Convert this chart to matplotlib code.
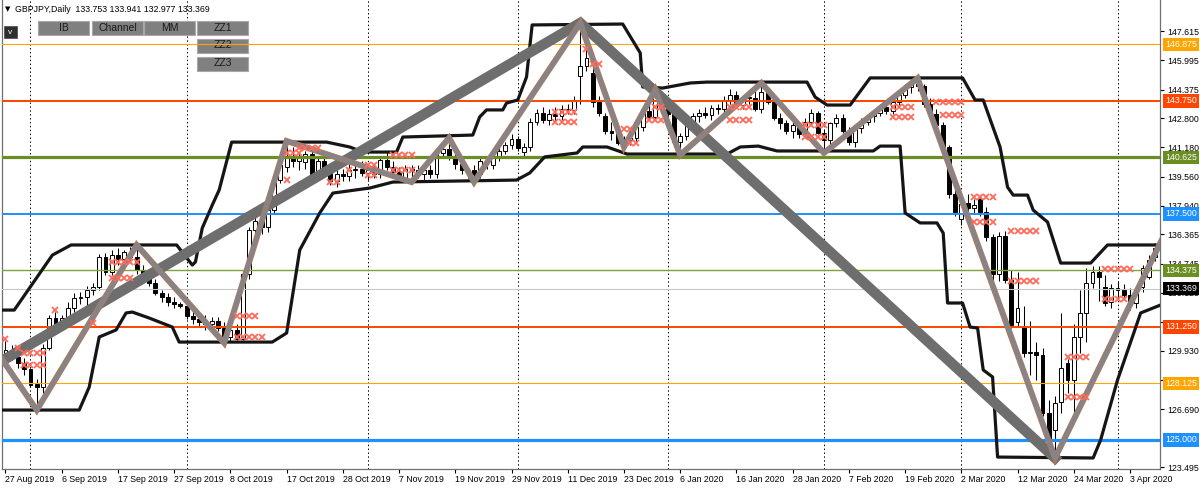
import matplotlib
matplotlib.use('Agg')
import matplotlib.pyplot as plt
import numpy as np
from matplotlib.patches import Rectangle

# daily GBPJPY bars (bar index = position on the time axis)
opens = [129.55, 129.95, 129.60, 129.25, 128.90, 128.10, 127.90, 130.10, 131.75, 131.40,
         131.75, 132.30, 132.85, 132.90, 133.30, 133.45, 135.10, 134.30, 135.20, 135.00,
         135.40, 135.10, 134.40, 133.95, 133.70, 133.10, 132.90, 132.60, 132.50, 132.40,
         131.85, 131.70, 131.50, 131.40, 131.60, 131.20, 130.70, 131.10, 130.60, 134.20,
         136.60, 137.10, 136.80, 137.70, 139.40, 140.10, 140.70, 140.40, 140.35, 140.80,
         139.80, 140.40, 140.00, 139.30, 139.70, 139.60, 139.90, 140.00, 139.75, 139.90,
         139.70, 140.50, 140.10, 139.80, 139.50, 140.00, 139.95, 139.70, 139.90, 139.70,
         140.85, 141.10, 140.60, 140.25, 139.90, 139.95, 139.70, 140.40, 140.20, 140.70,
         141.00, 141.30, 141.65, 140.90, 141.20, 142.60, 143.10, 142.70, 143.00, 142.90,
         143.30, 143.25, 145.10, 145.70, 145.30, 143.70, 142.90, 142.10, 142.00, 141.40,
         141.60, 141.70, 142.30, 143.20, 142.85, 144.00, 143.30, 143.00, 141.50, 141.80,
         142.40, 142.90, 143.10, 142.95, 143.35, 143.30, 143.80, 144.05, 143.55, 143.95,
         143.90, 143.30, 144.25, 143.70, 142.80, 142.50, 142.10, 142.40, 141.90, 142.60,
         143.10, 142.00, 141.60, 142.50, 142.80, 142.10, 141.45, 142.25, 142.60, 142.90,
         143.10, 143.40, 143.20, 143.70, 144.10, 144.50, 144.70, 144.55, 143.60, 143.00,
         142.40, 141.20, 138.60, 137.20, 138.10, 137.80, 138.30, 137.60, 136.20, 134.20,
         136.30, 133.85, 131.50, 131.25, 129.80, 129.85, 129.70, 126.50, 125.55, 127.10,
         129.25, 128.30, 130.70, 132.00, 133.68, 134.30, 133.45, 132.60, 133.40, 133.30,
         133.00, 132.57, 133.45, 134.00, 135.10]
highs = [130.45, 130.25, 129.90, 129.55, 129.00, 128.35, 130.30, 131.90, 132.10, 131.90,
         132.60, 133.10, 133.20, 133.50, 133.70, 135.30, 135.35, 135.50, 135.60, 135.50,
         135.65, 135.78, 134.70, 134.20, 133.90, 133.30, 133.10, 132.90, 132.60, 132.60,
         132.30, 132.00, 131.90, 131.80, 131.80, 131.50, 131.30, 131.40, 134.40, 136.80,
         137.50, 137.60, 138.00, 139.60, 140.50, 141.53, 141.20, 140.90, 141.00, 141.10,
         140.60, 140.70, 140.20, 139.90, 140.00, 140.30, 140.30, 140.40, 140.20, 140.20,
         140.60, 140.90, 140.40, 140.10, 140.20, 140.20, 140.20, 140.10, 140.20, 140.95,
         141.35, 141.70, 140.80, 140.40, 140.10, 140.20, 140.60, 140.70, 140.90, 141.20,
         141.50, 141.90, 141.80, 141.40, 142.80, 143.30, 143.40, 143.30, 143.40, 143.50,
         143.60, 144.00, 148.06, 146.70, 145.60, 144.00, 143.10, 142.60, 142.30, 141.80,
         141.90, 142.50, 143.30, 143.60, 144.35, 144.20, 143.50, 143.40, 142.00, 142.60,
         143.10, 143.30, 143.40, 143.50, 143.60, 144.00, 144.40, 144.30, 144.10, 144.30,
         144.30, 144.74, 144.50, 143.90, 143.10, 142.70, 142.60, 142.60, 142.80, 143.30,
         143.20, 142.20, 142.60, 143.00, 143.00, 142.30, 142.40, 142.80, 143.00, 143.20,
         143.60, 143.70, 143.90, 144.30, 144.70, 144.90, 145.00, 144.70, 143.90, 143.30,
         142.60, 141.30, 139.00, 138.50, 138.60, 138.30, 138.50, 137.90, 136.40, 136.50,
         136.55, 134.40, 134.30, 132.40, 131.60, 130.40, 130.10, 127.20, 127.40, 132.00,
         129.50, 131.40, 133.30, 134.50, 134.60, 134.60, 134.10, 133.60, 133.80, 133.60,
         133.40, 133.30, 134.70, 135.20, 135.90]
lows = [129.30, 129.40, 128.95, 128.60, 127.95, 126.65, 127.60, 129.95, 131.20, 131.10,
        131.50, 132.10, 132.50, 132.40, 133.00, 133.30, 134.10, 134.10, 134.70, 134.80,
        134.90, 134.20, 133.80, 133.50, 133.00, 132.60, 132.40, 132.30, 132.30, 131.70,
        131.40, 131.30, 131.10, 130.90, 131.00, 130.36, 130.40, 130.50, 130.50, 133.90,
        136.10, 136.40, 136.50, 137.50, 139.20, 139.80, 140.10, 139.90, 140.00, 139.50,
        139.60, 139.80, 139.10, 139.00, 139.30, 139.30, 139.50, 139.60, 139.40, 139.50,
        139.50, 139.90, 139.60, 139.30, 139.40, 139.26, 139.50, 139.40, 139.50, 139.50,
        140.60, 140.50, 140.00, 139.70, 139.50, 139.26, 139.50, 140.00, 140.00, 140.40,
        140.80, 141.10, 141.00, 140.70, 141.00, 142.40, 142.50, 142.40, 142.60, 142.70,
        143.00, 143.00, 143.60, 145.40, 143.40, 142.90, 141.90, 141.60, 141.30, 141.20,
        141.30, 141.50, 142.10, 142.70, 142.70, 143.10, 142.80, 141.20, 140.76, 141.60,
        142.20, 142.60, 142.80, 142.70, 143.00, 143.10, 143.60, 143.40, 143.30, 143.60,
        143.20, 143.10, 143.60, 142.70, 142.20, 141.90, 141.70, 141.70, 141.70, 142.40,
        141.90, 140.87, 141.20, 142.30, 142.00, 141.30, 141.20, 142.00, 142.40, 142.60,
        142.90, 143.00, 143.00, 143.50, 143.90, 144.20, 144.30, 143.40, 142.80, 142.30,
        141.10, 138.40, 137.40, 136.90, 137.40, 137.50, 137.40, 136.00, 133.50, 133.80,
        133.70, 131.20, 131.25, 129.60, 128.60, 128.30, 126.30, 124.60, 124.00, 126.50,
        127.60, 126.50, 129.80, 130.40, 133.40, 132.70, 132.40, 132.30, 132.90, 132.80,
        132.20, 132.30, 133.20, 133.90, 134.90]
closes = [129.95, 129.60, 129.25, 128.90, 128.05, 127.95, 130.10, 131.75, 131.40, 131.75,
          132.30, 132.85, 132.90, 133.30, 133.45, 135.10, 134.30, 135.20, 135.00, 135.40,
          135.10, 134.40, 133.95, 133.70, 133.10, 132.90, 132.60, 132.50, 132.40, 131.85,
          131.70, 131.50, 131.40, 131.60, 131.20, 130.70, 131.10, 130.60, 134.20, 136.60,
          137.10, 136.80, 137.70, 139.40, 140.20, 140.70, 140.40, 140.60, 140.80, 139.70,
          140.40, 140.00, 139.30, 139.70, 139.60, 139.90, 140.00, 139.75, 139.90, 139.70,
          140.50, 140.10, 139.80, 139.50, 140.00, 139.95, 139.70, 139.90, 139.70, 140.85,
          141.10, 140.60, 140.25, 139.90, 139.80, 139.70, 140.40, 140.30, 140.70, 141.00,
          141.30, 141.65, 141.15, 141.20, 142.60, 143.10, 142.70, 143.00, 142.90, 143.30,
          143.25, 143.80, 145.70, 146.10, 143.70, 143.10, 142.10, 142.00, 141.40, 141.60,
          141.70, 142.30, 143.20, 142.85, 144.00, 143.30, 143.00, 141.50, 141.80, 142.40,
          142.90, 143.10, 142.95, 143.35, 143.30, 143.80, 144.05, 143.55, 143.95, 143.90,
          143.30, 144.25, 143.70, 142.80, 142.50, 142.10, 142.40, 141.90, 142.60, 143.10,
          142.00, 141.60, 142.50, 142.80, 142.10, 141.45, 142.25, 142.60, 142.90, 143.10,
          143.40, 143.20, 143.70, 144.10, 144.50, 144.70, 144.55, 143.60, 143.00, 142.40,
          141.20, 138.60, 137.60, 138.05, 137.80, 138.00, 137.60, 136.20, 134.20, 136.30,
          133.85, 131.35, 132.30, 129.80, 129.85, 129.70, 126.50, 124.85, 127.04, 128.97,
          128.30, 130.70, 132.00, 133.68, 134.30, 134.00, 132.57, 133.40, 133.30, 133.00,
          132.60, 133.10, 134.50, 134.95, 135.60]

date_labels = ['27 Aug 2019', '6 Sep 2019', '17 Sep 2019', '27 Sep 2019', '8 Oct 2019',
               '17 Oct 2019', '28 Oct 2019', '7 Nov 2019', '19 Nov 2019', '29 Nov 2019',
               '11 Dec 2019', '23 Dec 2019', '6 Jan 2020', '16 Jan 2020', '28 Jan 2020',
               '7 Feb 2020', '19 Feb 2020', '2 Mar 2020', '12 Mar 2020', '24 Mar 2020',
               '3 Apr 2020']
label_step = 9
month_start_bars = [4, 29, 58, 82, 106, 131, 153, 178]

# 125.070 sits fully under the 125.000 tag, so it is not listed
y_ticks = [147.615, 145.995, 144.375, 142.800, 141.180, 139.560, 137.940, 136.365,
           134.745, 133.125, 131.505, 129.930, 128.310, 126.690, 123.495]

# murrey math style levels
levels = [146.875, 143.750, 140.625, 137.500, 134.375, 131.250, 128.125, 125.000]
level_colors = ['#FFA500', '#FF4500', '#6B8E23', '#1E90FF', '#7FA33A', '#FF4500', '#FFA500', '#1E90FF']
level_widths = [0.8, 1.4, 2.3, 1.4, 1.0, 1.4, 0.8, 2.3]
current_price = 133.369

# channel (black) knots
upper_bars = [-0.7, 1.4, 7.5, 10.5, 27.4, 29.9, 30.4, 31.5, 33.1, 34.2, 36.2, 51.4, 55.1,
              57.2, 62.6, 63.6, 74.8, 75.9, 77.0, 79.6, 80.2, 82.0, 83.4, 84.3, 98.8, 101.6,
              102.0, 105.2, 109.6, 112.3, 128.3, 129.6, 131.5, 135.2, 138.4, 153.2, 155.2,
              156.5, 159.2, 160.4, 161.3, 163.6, 164.5, 166.8, 168.9, 173.7, 176.4, 184.9]
upper_vals = [132.18, 132.18, 135.22, 135.78, 135.78, 134.67, 134.84, 136.72, 137.99, 138.82,
              141.47, 141.47, 141.2, 140.92, 140.92, 141.75, 141.86, 142.86, 143.25, 143.25,
              143.63, 143.8, 145.07, 147.95, 148.0, 146.4, 144.52, 144.46, 144.74, 144.79,
              144.79, 143.96, 143.52, 143.52, 145.02, 145.02, 143.8, 143.8, 141.2, 138.98,
              138.54, 138.54, 137.71, 137.05, 134.78, 134.78, 135.78, 135.78]
lower_bars = [-0.7, 11.8, 13.4, 15.0, 17.7, 19.3, 20.3, 23.0, 26.7, 27.8, 42.7, 45.0, 47.1,
              50.3, 52.4, 58.3, 62.0, 81.8, 83.9, 86.3, 91.5, 92.4, 96.3, 99.5, 115.5, 117.6,
              120.5, 123.5, 138.9, 140.0, 143.2, 144.0, 146.4, 149.1, 150.1, 150.8, 153.2,
              154.4, 155.6, 156.5, 158.0, 158.8, 174.1, 175.3, 178.0, 180.6, 181.7, 184.9]
lower_vals = [126.65, 126.65, 127.92, 130.69, 131.08, 132.02, 132.07, 131.74, 131.24, 130.41,
              130.41, 130.91, 135.5, 137.55, 138.65, 138.93, 139.26, 139.37, 139.76, 140.65,
              140.87, 141.2, 141.2, 140.81, 140.81, 141.2, 141.25, 140.98, 140.98, 141.25,
              141.25, 137.55, 137.0, 137.0, 136.44, 132.57, 132.57, 131.24, 131.19, 128.87,
              128.48, 124.05, 124.0, 125.0, 128.31, 130.91, 132.02, 132.46]

# zigzags
zz1_bars = [-0.7, 5, 21, 35, 45, 65, 71, 75, 92, 99, 104, 108, 121, 131, 146, 168, 185]
zz1_prices = [129.53, 126.65, 135.78, 130.36, 141.53, 139.26, 141.7, 139.26, 148.06, 141.2,
              144.35, 140.76, 144.74, 140.87, 145.0, 124.0, 136.0]
zz2_bars = [-0.7, 92, 168]
zz2_prices = [129.34, 148.06, 124.0]

# little red crosses (rows of marks over a few bars)
marker_prices = [130.6, 130.1, 129.8, 129.15, 132.2, 131.45, 134.85, 133.95, 131.85, 130.7,
                 141.15, 140.85, 139.37, 139.25, 139.9, 140.2, 139.65, 140.75, 139.93, 143.13,
                 142.58, 146.6, 145.8, 142.2, 141.4, 143.4, 142.69, 143.4, 142.69, 142.42,
                 141.75, 143.4, 142.85, 143.69, 142.97, 138.43, 137.05, 136.55, 133.79, 129.58,
                 127.37, 134.45, 132.79]
marker_bars = [[0], [2], [3, 4, 5, 6], [3, 4, 5, 6], [8], [14], [17, 18, 19, 20, 21],
               [17, 18, 19, 20], [37, 38, 39, 40], [37, 38, 39, 40, 41], [47, 48, 49, 50],
               [45, 46, 47], [45], [52, 53], [55], [58, 59], [58, 59], [62, 63, 64, 65],
               [62, 63, 64, 65], [88, 89, 90, 91], [88, 89, 90, 91], [93], [94, 95], [99, 100],
               [100, 101], [104, 105], [103, 104, 105], [116, 117, 118, 119], [116, 117, 118, 119],
               [128, 129, 130, 131], [128, 129, 130, 131], [142, 143, 144, 145], [142, 143, 144, 145],
               [149, 150, 151, 152, 153], [150, 151, 152, 153], [155, 156, 157, 158],
               [155, 156, 157, 158], [161, 162, 163, 164, 165], [161, 162, 163, 164, 165],
               [170, 171, 172, 173], [170, 171, 172, 173], [176, 177, 178, 179, 180],
               [176, 177, 178, 179]]

buttons = ['IB', 'Channel', 'MM', 'ZZ1', 'ZZ2', 'ZZ3']

plt.rcParams['font.family'] = ['Liberation Sans', 'DejaVu Sans']

W, H = 1200, 488
fig = plt.figure(figsize=(W / 100, H / 100), dpi=100)
fig.patch.set_facecolor('white')
ax_left, ax_right, ax_top, ax_bottom = 2, 1160, 0, 468.5
ax = fig.add_axes([ax_left / W, (H - ax_bottom) / H, (ax_right - ax_left) / W, (ax_bottom - ax_top) / H])


def px(x, y):
    # pixel position -> axes fraction
    return (x - ax_left) / (ax_right - ax_left), (ax_bottom - y) / (ax_bottom - ax_top)


o = np.array(opens); h = np.array(highs); l = np.array(lows); c = np.array(closes)
x = np.arange(len(c))
up = c >= o

# month grid
for b in month_start_bars:
    ax.axvline(b, color='black', lw=0.7, ls=(0, (1.5, 2.5)), zorder=1)

# candles
ax.vlines(x, l, h, color='black', lw=0.75, zorder=2)
body_lo = np.minimum(o, c)
body_h = np.maximum(np.abs(c - o), 0.04)
ax.bar(x[up], body_h[up], bottom=body_lo[up], width=0.62, facecolor='white',
       edgecolor='black', linewidth=0.7, zorder=2.1)
ax.bar(x[~up], body_h[~up], bottom=body_lo[~up], width=0.62, facecolor='black',
       edgecolor='black', linewidth=0.7, zorder=2.1)

# levels
ax.axhline(current_price, color='#C8C8C8', lw=0.8, zorder=2.9)
for lv, col, lw in zip(levels, level_colors, level_widths):
    ax.axhline(lv, color=col, lw=lw, zorder=3)

# channel
ax.plot(upper_bars, upper_vals, color='#151515', lw=2.3, zorder=4,
        solid_joinstyle='round', solid_capstyle='round')
ax.plot(lower_bars, lower_vals, color='#151515', lw=2.3, zorder=4,
        solid_joinstyle='round', solid_capstyle='round')

# zigzags
ax.plot(zz2_bars, zz2_prices, color='#6E6E6E', lw=7.5, zorder=5, solid_joinstyle='miter')
ax.plot(zz1_bars, zz1_prices, color='#A67B63', lw=4.3, zorder=6, solid_joinstyle='miter')
ax.plot(zz1_bars, zz1_prices, color='#7389A0', lw=1.7, zorder=6.1, solid_joinstyle='miter')

for p, bars in zip(marker_prices, marker_bars):
    ax.plot(bars, [p] * len(bars), ls='none', marker='x', ms=4.2, mew=1.3,
            color='#FF6B5B', zorder=7)

ax.set_xlim(-0.56, 184.8)
ax.set_ylim(123.417, 149.33)

# right price axis
ax.yaxis.tick_right()
ax.set_yticks(y_ticks)
ax.set_yticklabels([f'{v:.3f}' for v in y_ticks])
ax.tick_params(axis='y', direction='out', length=3, width=0.8, pad=2, labelsize=6.3,
               colors='black')
ax.set_xticks(np.arange(len(date_labels)) * label_step)
ax.set_xticklabels(date_labels)
for lab in ax.get_xticklabels():
    lab.set_horizontalalignment('left')
ax.tick_params(axis='x', direction='out', length=3, width=0.8, pad=1.5, labelsize=6.3)

for s in ['right', 'bottom', 'left']:
    ax.spines[s].set_color('#707070')
    ax.spines[s].set_linewidth(0.9)
ax.spines['top'].set_visible(False)

# level tags on the price axis
for lv, col in zip(levels, level_colors):
    tag = '#6B8E23' if col == '#7FA33A' else col
    ax.annotate(f'{lv:.3f}', xy=(1, lv), xycoords=('axes fraction', 'data'),
                xytext=(3.5, 0), textcoords='offset points', ha='left', va='center',
                fontsize=6.3, color='white', annotation_clip=False, zorder=10,
                bbox=dict(boxstyle='square,pad=0.25', fc=tag, ec='none'))
ax.annotate(f'{current_price:.3f}', xy=(1, current_price), xycoords=('axes fraction', 'data'),
            xytext=(3.5, 0), textcoords='offset points', ha='left', va='center',
            fontsize=6.3, color='white', annotation_clip=False, zorder=10,
            bbox=dict(boxstyle='square,pad=0.25', fc='black', ec='none'))

# header
hx, hy = px(5, 9)
ax.text(hx, hy, '\u25bc', transform=ax.transAxes, fontsize=5, va='center', ha='left',
        family='DejaVu Sans', zorder=10)
hx, hy = px(15, 9)
ax.text(hx, hy, 'GBPJPY,Daily  133.753 133.941 132.977 133.369', transform=ax.transAxes,
        fontsize=6.3, va='center', ha='left', zorder=10)

# small "v" button
bx, by = px(4, 38)
bw, bh = 13 / (ax_right - ax_left), 12 / (ax_bottom - ax_top)
ax.add_patch(Rectangle((bx, by), bw, bh, transform=ax.transAxes, fc='#2E2E2E', ec='#555555',
                       lw=0.6, zorder=8))
ax.text(bx + bw / 2, by + bh / 2, 'v', transform=ax.transAxes, fontsize=6, color='white',
        ha='center', va='center', zorder=9)

# indicator buttons
button_boxes = [(38, 21), (92, 21), (144, 21), (197, 21), (197, 38.5), (197, 56.5)]
for name, (x0, y0) in zip(buttons, button_boxes):
    rx, ry = px(x0, y0 + 14)
    rw, rh = 51 / (ax_right - ax_left), 14 / (ax_bottom - ax_top)
    ax.add_patch(Rectangle((rx, ry), rw, rh, transform=ax.transAxes, fc='#808080',
                           ec='#A8A8A8', lw=0.8, zorder=2.8))
    ax.text(rx + rw / 2, ry + rh / 2, name, transform=ax.transAxes, fontsize=7.5,
            color='#1A1A1A', ha='center', va='center', zorder=2.85)

fig.savefig('out.png', dpi=100, facecolor='white')
